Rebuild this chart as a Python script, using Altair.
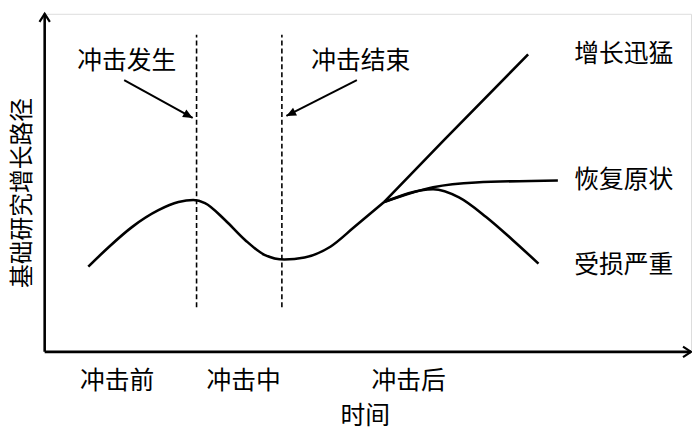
import altair as alt
import pandas as pd

FONT = "Noto Sans CJK SC"

# ---- curve data (abstract units: time 0-100, growth 0-100) ----
main_x = [6.75, 9.97, 13.5, 17.6, 20.7, 23.0, 24.8, 27.9, 31.0, 34.0, 37.1, 40.2, 44.2, 47.9, 52.5]
main_y = [25.2, 31.1, 36.9, 41.9, 44.3, 44.9, 44.0, 39.0, 33.1, 28.7, 27.3, 27.9, 31.1, 36.9, 44.3]
rapid_x = [52.5, 61.7, 74.8]
rapid_y = [44.3, 62.5, 88.0]
recover_x = [52.5, 60.1, 66.7, 79.4]
recover_y = [44.3, 48.7, 50.1, 50.7]
damage_x = [52.5, 60.1, 64.1, 68.3, 72.4, 76.4]
damage_y = [44.3, 48.1, 45.7, 39.9, 33.1, 26.1]

# shock boundaries (time)
shock_x = [23.5, 36.7]
shock_y0 = [13.2, 13.2]
shock_y1 = [93.8, 93.8]

# annotation arrows
arrow_x0 = [12.3, 48.3]
arrow_y0 = [80.4, 80.4]
arrow_x1 = [22.9, 37.4]
arrow_y1 = [69.2, 69.8]
arrow_angle = [28.8, 153.0]

# labels
label_text = ["冲击发生", "冲击结束", "增长迅猛", "恢复原状", "受损严重", "冲击前", "冲击中", "冲击后", "时间"]
label_x = [12.7, 48.9, 89.6, 89.6, 89.6, 11.2, 30.8, 56.3, 49.6]
label_y = [85.9, 85.9, 88.0, 50.7, 25.8, -8.5, -8.5, -8.5, -19.1]

ylabel_text = ["基础研究增长路径"]
ylabel_x = [-3.3]
ylabel_y = [47.0]

# ---- build tables ----
rows = []
for name, xs, ys in [("main", main_x, main_y), ("rapid", rapid_x, rapid_y),
                     ("recover", recover_x, recover_y), ("damage", damage_x, damage_y)]:
    for i, (a, b) in enumerate(zip(xs, ys)):
        rows.append({"series": name, "i": i, "t": a, "v": b})
curves = pd.DataFrame(rows)

shocks = pd.DataFrame({"t": shock_x, "v0": shock_y0, "v1": shock_y1})
arrows = pd.DataFrame({"t0": arrow_x0, "v0": arrow_y0, "t1": arrow_x1, "v1": arrow_y1, "ang": arrow_angle})
labels = pd.DataFrame({"text": label_text, "t": label_x, "v": label_y})
ylab = pd.DataFrame({"text": ylabel_text, "t": ylabel_x, "v": ylabel_y})
axes_df = pd.DataFrame({"t0": [0, 0], "v0": [0, 0], "t1": [0, 100], "v1": [100, 0]})
axis_tips = pd.DataFrame({"t": [0, 100], "v": [100, 0], "ang": [270, 0]})

xs = alt.Scale(domain=[0, 100], nice=False, zero=False)
ys = alt.Scale(domain=[0, 100], nice=False, zero=False)
X = lambda f: alt.X(f, type="quantitative", scale=xs, axis=None)
Y = lambda f: alt.Y(f, type="quantitative", scale=ys, axis=None)

curve_layer = alt.Chart(curves).mark_line(
    interpolate="monotone", color="black", strokeWidth=2.6
).encode(x=X("t"), y=Y("v"), detail="series:N", order="i:Q")

shock_layer = alt.Chart(shocks).mark_rule(
    color="black", strokeWidth=1.6, strokeDash=[5, 3]
).encode(x=X("t"), y=Y("v0"), y2="v1")

arrow_lines = alt.Chart(arrows).mark_rule(color="black", strokeWidth=2).encode(
    x=X("t0"), y=Y("v0"), x2="t1", y2="v1"
)
arrow_heads = alt.Chart(arrows).mark_point(
    shape="M0,0 L-1,-0.45 L-1,0.45 Z", filled=True, color="black", opacity=1, size=380
).encode(x=X("t1"), y=Y("v1"), angle=alt.Angle("ang:Q", scale=None))

axis_lines = alt.Chart(axes_df).mark_rule(color="black", strokeWidth=2.6).encode(
    x=X("t0"), y=Y("v0"), x2="t1", y2="v1"
)
axis_heads = alt.Chart(axis_tips).mark_point(
    shape="M-1,-0.65 L0,0 L-1,0.65", filled=False, color="black", opacity=1,
    size=260, strokeWidth=2.2
).encode(x=X("t"), y=Y("v"), angle=alt.Angle("ang:Q", scale=None))

text_layer = alt.Chart(labels).mark_text(
    font=FONT, fontSize=25, color="black", align="center", baseline="middle"
).encode(x=X("t"), y=Y("v"), text="text:N")

ylab_layer = alt.Chart(ylab).mark_text(
    font=FONT, fontSize=24, color="black", align="center", baseline="middle", angle=270
).encode(x=X("t"), y=Y("v"), text="text:N")

chart = alt.layer(
    axis_lines, axis_heads, shock_layer, curve_layer, arrow_lines, arrow_heads, text_layer, ylab_layer
).properties(
    width=652, height=341,
    autosize=alt.AutoSizeParams(type="none"),
    padding={"left": 37, "top": 4, "right": 1, "bottom": 80},
).configure_view(stroke=None).configure(background="white")

chart.save("out.html", embed_options={"renderer": "svg", "actions": False})
